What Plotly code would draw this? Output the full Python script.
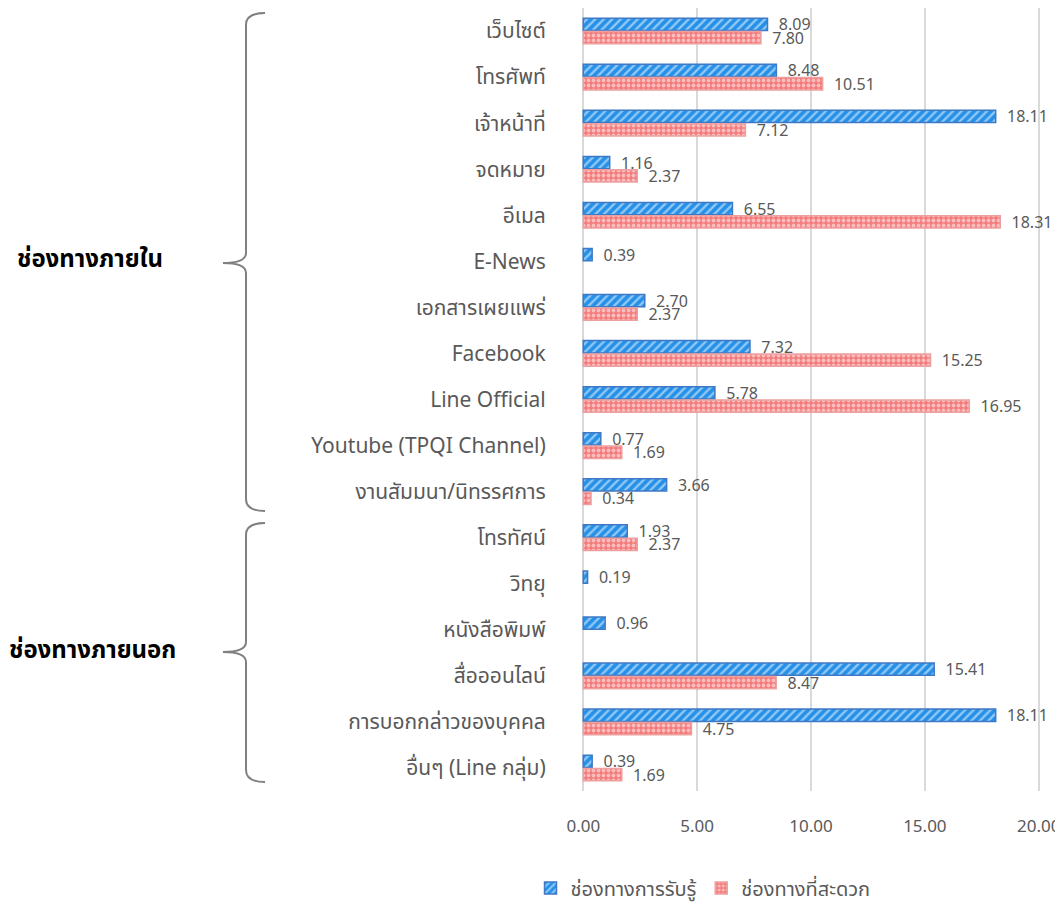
import plotly.graph_objects as go

categories = ["เว็บไซต์", "โทรศัพท์", "เจ้าหน้าที่", "จดหมาย", "อีเมล", "E-News",
              "เอกสารเผยแพร่", "Facebook", "Line Official", "Youtube (TPQI Channel)",
              "งานสัมมนา/นิทรรศการ", "โทรทัศน์", "วิทยุ", "หนังสือพิมพ์", "สื่อออนไลน์",
              "การบอกกล่าวของบุคคล", "อื่นๆ (Line กลุ่ม)"]
perceived = [8.09, 8.48, 18.11, 1.16, 6.55, 0.39, 2.70, 7.32, 5.78, 0.77, 3.66,
             1.93, 0.19, 0.96, 15.41, 18.11, 0.39]
convenient = [7.80, 10.51, 7.12, 2.37, 18.31, None, 2.37, 15.25, 16.95, 1.69, 0.34,
              2.37, None, None, 8.47, 4.75, 1.69]
series_names = ["ช่องทางการรับรู้", "ช่องทางที่สะดวก"]
group_labels = ["ช่องทางภายใน", "ช่องทางภายนอก"]
x_ticks = [0, 5, 10, 15, 20]

FONT = "Noto Sans, Noto Sans Thai, Leelawadee UI, Tahoma, sans-serif"
GRAY = "#595959"
BLUE = "#2490E8"
PINK = "#F47B7B"

fig = go.Figure()
fig.add_trace(go.Bar(
    y=categories, x=perceived, orientation="h", name=series_names[0],
    marker=dict(color=BLUE, line=dict(color="#3F78C4", width=1.5),
                pattern=dict(shape="/", fgcolor="white", bgcolor=BLUE,
                             size=6, solidity=0.4)),
    texttemplate="  %{x:.2f}", textposition="outside", cliponaxis=False,
    constraintext="none",
    textfont=dict(color=GRAY, size=16, family=FONT),
))
fig.add_trace(go.Bar(
    y=categories, x=convenient, orientation="h", name=series_names[1],
    marker=dict(color=PINK, line=dict(color="#EDA0A0", width=1.5),
                pattern=dict(shape=".", fgcolor="white", bgcolor=PINK,
                             size=5, solidity=0.45)),
    texttemplate="  %{x:.2f}", textposition="outside", cliponaxis=False,
    constraintext="none",
    textfont=dict(color=GRAY, size=16, family=FONT),
))

# page body has an 8px margin: figure is drawn from (8, 8)
OFF = 8
W, H = 1063 - OFF, 911 - 2 * OFF
L, R, T, B = 573, 22, 0, 112
pw, ph = W - L - R, H - T - B


def px(x):
    return (x - OFF - L) / pw


def py(y):
    return 1 - (y - OFF - T) / ph


def brace(top, mid, bottom, xv=246, xe=265, xp=223):
    pts = (f"M {px(xe)},{py(top)} Q {px(xv)},{py(top)} {px(xv)},{py(top + 12)} "
           f"L {px(xv)},{py(mid - 10)} Q {px(xv)},{py(mid)} {px(xp)},{py(mid)} "
           f"Q {px(xv)},{py(mid)} {px(xv)},{py(mid + 10)} "
           f"L {px(xv)},{py(bottom - 12)} Q {px(xv)},{py(bottom)} {px(xe)},{py(bottom)}")
    return dict(type="path", xref="paper", yref="paper", path=pts,
                line=dict(color="#808080", width=2))


fig.add_shape(brace(13, 263, 511))
fig.add_shape(brace(523, 652, 782))

fig.add_annotation(x=px(90), y=py(258), xref="paper", yref="paper", xanchor="center",
                   yanchor="middle", text=f"<b>{group_labels[0]}</b>",
                   showarrow=False, font=dict(size=24, color="black", family=FONT))
fig.add_annotation(x=px(93), y=py(648), xref="paper", yref="paper", xanchor="center",
                   yanchor="middle", text=f"<b>{group_labels[1]}</b>",
                   showarrow=False, font=dict(size=24, color="black", family=FONT))

fig.update_layout(
    width=W, height=H,
    margin=dict(l=L, r=R, t=T, b=B, autoexpand=False),
    paper_bgcolor="white", plot_bgcolor="white",
    barmode="group", bargap=0.42, bargroupgap=0.08,
    font=dict(family=FONT, color=GRAY),
    showlegend=True,
    legend=dict(orientation="h", xref="container", yref="container",
                x=(703 - OFF) / W, xanchor="center",
                y=1 - (888 - OFF) / H, yanchor="middle",
                font=dict(size=20, color=GRAY, family=FONT), traceorder="normal"),
    xaxis=dict(range=[-0.1, 20.1], tickvals=x_ticks, tickformat=".2f",
               showgrid=True, gridcolor="#D9D9D9", gridwidth=1.5,
               zeroline=False, showline=False, automargin=False,
               ticks="outside", ticklen=20, tickcolor="rgba(0,0,0,0)",
               tickfont=dict(size=17, color=GRAY, family=FONT)),
    yaxis=dict(autorange="reversed", showgrid=False, zeroline=False, showline=False,
               automargin=False,
               ticks="outside", ticklen=30, tickcolor="rgba(0,0,0,0)",
               tickfont=dict(size=21, color=GRAY, family=FONT)),
)

fig.write_html("out.html")
